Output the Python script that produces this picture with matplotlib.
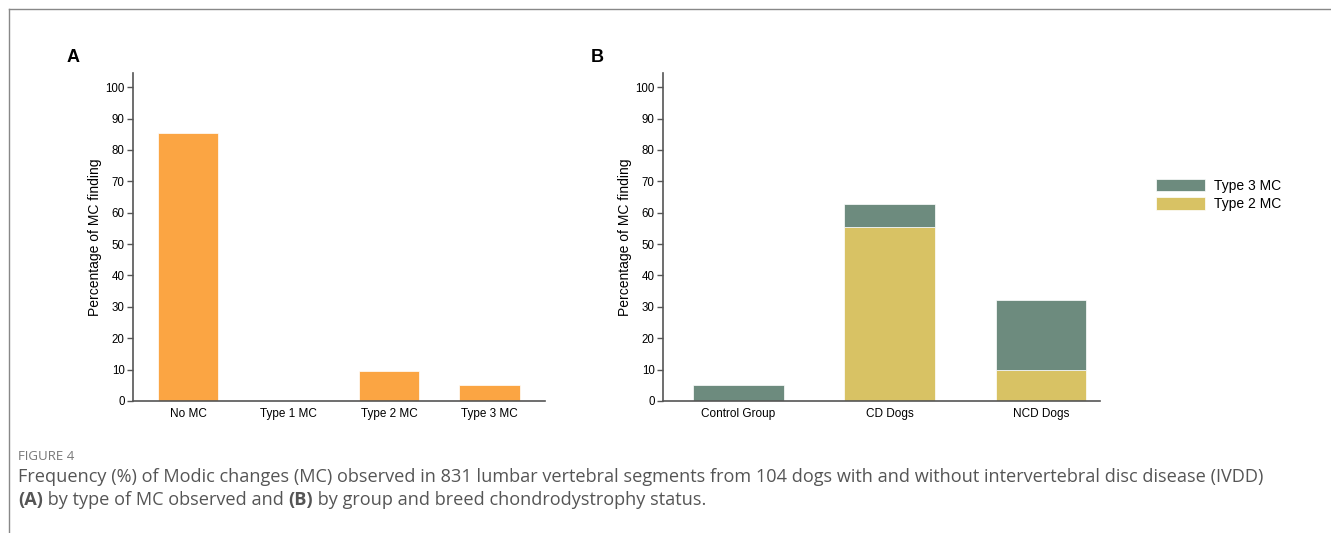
import matplotlib.pyplot as plt
from matplotlib.lines import Line2D
import numpy as np

# panel A
types_a = ["No MC", "Type 1 MC", "Type 2 MC", "Type 3 MC"]
pct_a = [85.3, 0.0, 9.6, 5.1]

# panel B
groups_b = ["Control Group", "CD Dogs", "NCD Dogs"]
type2_b = [0.0, 55.4, 9.9]
type3_b = [5.1, 7.3, 22.3]

orange = "#FBA543"
green = "#6D8B7E"
yellow = "#D8C264"
spine_c = "#555555"

plt.rcParams['font.family'] = ['Liberation Sans', 'DejaVu Sans']

fig = plt.figure(figsize=(13.31, 5.33), dpi=100)

def style(ax):
    ax.set_ylim(0, 104.5)
    ax.set_yticks(range(0, 101, 10))
    for s in ["top", "right"]:
        ax.spines[s].set_visible(False)
    for s in ["left", "bottom"]:
        ax.spines[s].set_color(spine_c)
        ax.spines[s].set_linewidth(1.2)
    ax.tick_params(axis="y", length=4, width=1, color=spine_c, labelsize=8.3, pad=2)
    ax.tick_params(axis="x", length=0, labelsize=8.5, pad=5)
    ax.set_ylabel("Percentage of MC finding", fontsize=10, labelpad=2)

axA = fig.add_axes([0.0999, 0.2477, 0.3095, 0.6153])
xa = np.arange(len(types_a))
axA.bar(xa, pct_a, 0.6, color=orange, edgecolor="white", linewidth=0.5)
axA.set_xticks(xa)
axA.set_xticklabels(types_a)
axA.set_xlim(-0.547, 3.55)
style(axA)

axB = fig.add_axes([0.4981, 0.2477, 0.3283, 0.6153])
xb = np.arange(len(groups_b))
axB.bar(xb, type2_b, 0.6, color=yellow, edgecolor="white", linewidth=0.5, label="Type 2 MC")
axB.bar(xb, type3_b, 0.6, bottom=type2_b, color=green, edgecolor="white", linewidth=0.5, label="Type 3 MC")
axB.set_xticks(xb)
axB.set_xticklabels(groups_b)
axB.set_xlim(-0.498, 2.39)
style(axB)
h, l = axB.get_legend_handles_labels()
fig.legend(h[::-1], l[::-1], loc="upper left", bbox_to_anchor=(0.8685, 0.665),
           frameon=False, fontsize=10, handlelength=3.5, handleheight=1.0,
           handletextpad=0.7, labelspacing=0.33, borderaxespad=0, borderpad=0)

fig.text(73 / 1331, 1 - 57 / 533, "A", fontsize=13, fontweight="bold", va="center", ha="center")
fig.text(597 / 1331, 1 - 57 / 533, "B", fontsize=13, fontweight="bold", va="center", ha="center")

# caption
cap_font = ['Open Sans', 'DejaVu Sans']
cap_c = "#555555"
fs = 13.1
fig.text(18 / 1331, 1 - 456 / 533, "FIGURE 4", fontsize=9.5, color="#777777", family=cap_font, va="center")
fig.text(18 / 1331, 1 - 482 / 533,
         "Frequency (%) of Modic changes (MC) observed in 831 lumbar vertebral segments "
         "from 104 dogs with and without intervertebral disc disease (IVDD)",
         fontsize=fs, color=cap_c, family=cap_font, va="baseline")

# second caption line: mixed bold / normal pieces placed one after another
parts = [("(A)", "bold"), (" by type of MC observed and ", "normal"),
         ("(B)", "bold"), (" by group and breed chondrodystrophy status.", "normal")]
r = fig.canvas.get_renderer()
x = 18
for txt, w in parts:
    t = fig.text(x / 1331, 1 - 505 / 533, txt, fontsize=fs, color=cap_c,
                 family=cap_font, fontweight=w, va="baseline")
    x = t.get_window_extent(r).x1

# frame lines
fig.add_artist(Line2D([9 / 1331, 1], [1 - 9 / 533, 1 - 9 / 533], color="#888888", lw=1))
fig.add_artist(Line2D([9 / 1331, 9 / 1331], [0, 1 - 9 / 533], color="#888888", lw=1))

fig.savefig("out.png", dpi=100)
